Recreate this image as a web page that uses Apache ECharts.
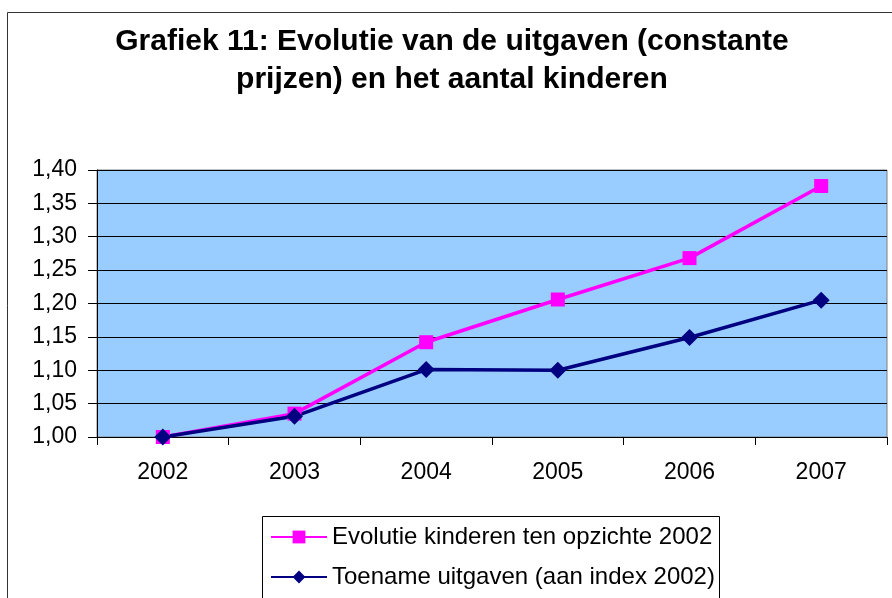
<!DOCTYPE html>
<html>
<head>
<meta charset="utf-8">
<script src="https://cdn.jsdelivr.net/npm/echarts@6/dist/echarts.min.js"></script>
<style>
  html, body { margin: 0; padding: 0; background: #fff; }
  #chart { width: 892px; height: 598px; }
</style>
</head>
<body>
<div id="chart"></div>
<script>
const years = ['2002', '2003', '2004', '2005', '2006', '2007'];
const kinderen = [1.000, 1.035, 1.142, 1.206, 1.268, 1.376];
const uitgaven = [1.000, 1.031, 1.101, 1.100, 1.149, 1.205];
const seriesNames = ['Evolutie kinderen ten opzichte 2002', 'Toename uitgaven (aan index 2002)'];
const titleText = 'Grafiek 11: Evolutie van de uitgaven (constante\nprijzen) en het aantal kinderen';

const font = 'Liberation Sans, Arial, sans-serif';
const chart = echarts.init(document.getElementById('chart'));

chart.setOption({
    animation: false,
    backgroundColor: '#fff',
    title: {
        text: titleText,
        left: 452,
        top: 23,
        padding: 0,
        textAlign: 'center',
        textStyle: { fontFamily: font, fontSize: 30, fontWeight: 'bold', color: '#000', lineHeight: 38 }
    },
    graphic: [
        {
            // outer chart frame
            type: 'rect',
            shape: { x: 7.5, y: 12.5, width: 900, height: 600 },
            style: { fill: 'none', stroke: '#333', lineWidth: 1 },
            z: -1
        },
        {
            // legend frame
            type: 'rect',
            shape: { x: 262.5, y: 516.5, width: 457, height: 100 },
            style: { fill: '#fff', stroke: '#000', lineWidth: 1 },
            z: -1
        }
    ],
    legend: {
        orient: 'vertical',
        left: 270,
        top: 525,
        padding: 0,
        itemGap: 16,
        itemWidth: 56,
        itemHeight: 16,
        data: seriesNames,
        textStyle: { fontFamily: font, fontSize: 24, color: '#000', lineHeight: 24 }
    },
    grid: {
        left: 97,
        right: 5,
        top: 170,
        bottom: 161,
        show: true,
        backgroundColor: '#99CCFF',
        borderColor: '#808080',
        borderWidth: 1,
        outerBoundsMode: 'none'
    },
    xAxis: {
        type: 'category',
        data: years,
        boundaryGap: true,
        axisLine: { lineStyle: { color: '#000', width: 1 } },
        axisTick: { show: true, length: 8, inside: false, lineStyle: { color: '#000' } },
        axisLabel: { fontFamily: font, fontSize: 23, color: '#000', margin: 24 },
        splitLine: { show: false }
    },
    yAxis: {
        type: 'value',
        min: 1,
        max: 1.4,
        interval: 0.05,
        axisLine: { show: true, lineStyle: { color: '#000', width: 1 } },
        axisTick: { show: true, length: 9, lineStyle: { color: '#000' } },
        axisLabel: {
            fontFamily: font, fontSize: 23, color: '#000', margin: 20,
            formatter: v => v.toFixed(2).replace('.', ',')
        },
        splitLine: { show: true, lineStyle: { color: '#000', width: 1 } }
    },
    series: [
        {
            name: seriesNames[0],
            type: 'line',
            data: kinderen,
            symbol: 'rect',
            symbolSize: 14,
            lineStyle: { color: '#FF00FF', width: 3.5 },
            itemStyle: { color: '#FF00FF' }
        },
        {
            name: seriesNames[1],
            type: 'line',
            data: uitgaven,
            symbol: 'diamond',
            symbolSize: 17,
            lineStyle: { color: '#000080', width: 3.5 },
            itemStyle: { color: '#000080' }
        }
    ]
});
</script>
</body>
</html>
